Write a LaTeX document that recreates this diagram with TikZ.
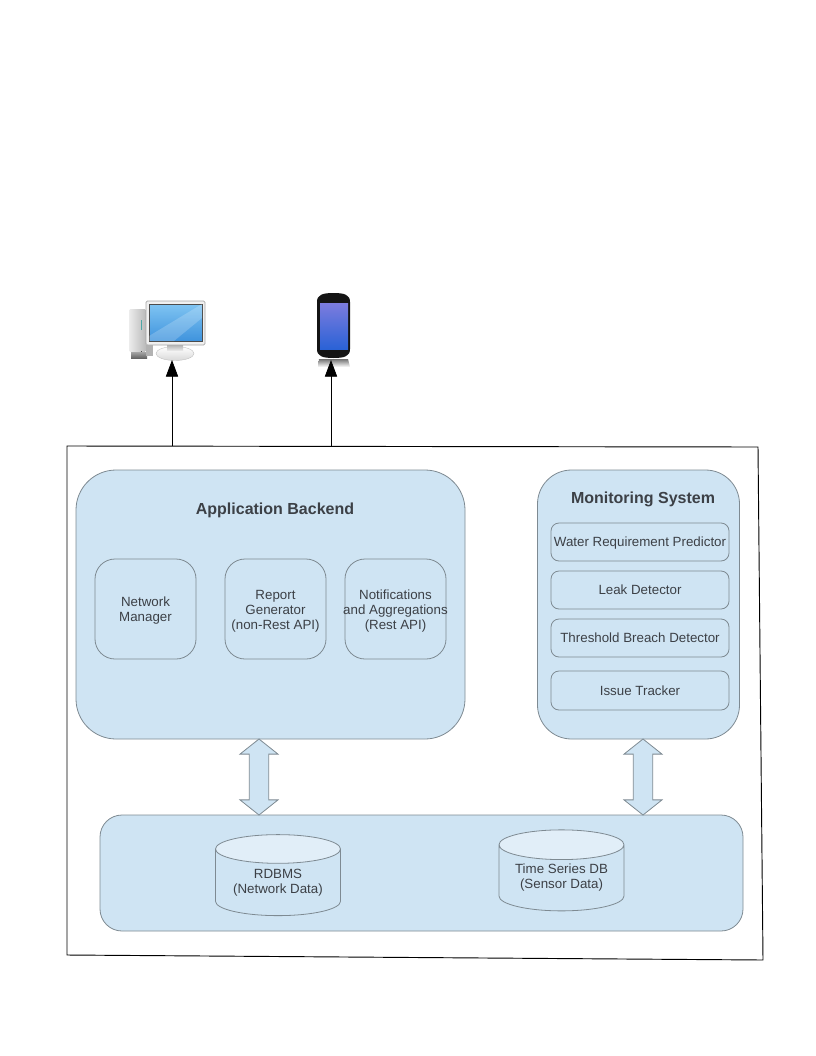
\documentclass[tikz,border=0pt]{standalone}
\usepackage{fontspec}
\setmainfont{Liberation Sans}
\usetikzlibrary{shapes.geometric,shapes.arrows,arrows.meta}
\definecolor{boxfill}{HTML}{CFE4F3}
\definecolor{capfill}{HTML}{E1EEF8}
\definecolor{boxline}{HTML}{7E8A92}
\definecolor{boxtext}{HTML}{3C4046}
\definecolor{scrtop}{HTML}{7FC4F2}
\definecolor{scrbot}{HTML}{3F93DD}
\definecolor{phtop}{HTML}{7C7CDE}
\definecolor{phbot}{HTML}{2A62D6}
\newcommand{\pxl}[1]{#1*0.75pt}
\newcommand{\dn}{\rule{0pt}{10pt}}
\tikzset{
  x=0.75pt,y=-0.75pt,
  body/.style={font=\fontsize{10}{11.25}\selectfont,text=boxtext,align=center},
  titletext/.style={font=\bfseries\fontsize{12}{14}\selectfont,text=boxtext,align=center,inner sep=0pt},
  roundbox/.style={draw=boxline,fill=boxfill,line width=0.6pt,body,inner sep=0pt},
  store/.style={cylinder,shape border rotate=90,draw=boxline,line width=0.6pt,body,inner sep=0pt,
    cylinder uses custom fill,cylinder body fill=boxfill,cylinder end fill=capfill,aspect=0.32,
    minimum width=\pxl{125},minimum height=\pxl{81}},
  link/.style={draw=boxline,fill=boxfill,line width=0.6pt,double arrow,rotate=90,inner xsep=0pt,inner ysep=\pxl{9},
    minimum width=\pxl{38},minimum height=\pxl{76},double arrow head extend=\pxl{9},double arrow tip angle=103,double arrow head indent=0pt},
  flow/.style={draw=black,line width=0.6pt,-{Triangle[length=12.5pt,width=9.2pt]}},
  frameline/.style={draw=black,line width=0.7pt}
}
\begin{document}
\begin{tikzpicture}
\useasboundingbox (0,0) rectangle (816,1056);
% frame
\coordinate (fa) at (67,446);
\coordinate (fb) at (758,447);
\coordinate (fc) at (763,960);
\coordinate (fd) at (67,955);
\draw[frameline] (fa) -- (fb) -- (fc) -- (fd) -- cycle;
% boxes
\node[roundbox,rounded corners=\pxl{40},minimum width=\pxl{389},minimum height=\pxl{269}] (backend) at (270.5,604.5) {};
\node[titletext] (backendtitle) at (275,510) {Application Backend};
\node[roundbox,rounded corners=\pxl{34},minimum width=\pxl{202},minimum height=\pxl{269}] (monitor) at (638.5,604.5) {};
\node[titletext] (monitortitle) at (643,499) {Monitoring System};
\node[roundbox,rounded corners=\pxl{20},minimum width=\pxl{101},minimum height=\pxl{100}] (netman) at (145.5,609) {\dn Network\\Manager};
\node[roundbox,rounded corners=\pxl{20},minimum width=\pxl{101},minimum height=\pxl{100}] (report) at (275.5,609) {\dn Report\\Generator\\(non-Rest API)};
\node[roundbox,rounded corners=\pxl{20},minimum width=\pxl{101},minimum height=\pxl{100},inner xsep=-2pt] (notif) at (395.5,609) {\dn Notifications\\and Aggregations\\(Rest API)};
\node[roundbox,rounded corners=\pxl{8},minimum width=\pxl{178},minimum height=\pxl{38}] (predict) at (640,542) {\rule{0pt}{8.7pt}Water Requirement Predictor};
\node[roundbox,rounded corners=\pxl{8},minimum width=\pxl{178},minimum height=\pxl{38}] (leak) at (640,590) {Leak Detector};
\node[roundbox,rounded corners=\pxl{8},minimum width=\pxl{178},minimum height=\pxl{38}] (breach) at (640,638) {Threshold Breach Detector};
\node[roundbox,rounded corners=\pxl{8},minimum width=\pxl{178},minimum height=\pxl{39}] (issue) at (640,690.5) {Issue Tracker};
\node[roundbox,rounded corners=\pxl{22},minimum width=\pxl{643},minimum height=\pxl{116}] (storage) at (421.5,873) {};
\node[store] (rdbms) at (278,882.5) {RDBMS\\(Network Data)};
\node[store] (tsdb) at (561.5,878) {Time Series DB\\(Sensor Data)};
% double arrows
\node[link] (linka) at (259,777) {};
\node[link] (linkb) at (643,777) {};
% computer icon
\shade[left color=white!85!gray,right color=gray!55,rounded corners=1pt] (129,309) rectangle (146,352);
\fill[teal!70] (140.5,320) rectangle (141.5,330);
\fill[black!70] (140.5,351) rectangle (141.5,354);
\shade[top color=gray!70,bottom color=black!60] (131,352) rectangle (147,358);
\fill[gray!60] (146,345) rectangle (153,356);
\node[ellipse,inner sep=0pt,minimum width=\pxl{38},minimum height=\pxl{14},shade,top color=white,bottom color=gray!30,draw=gray!50,line width=0.3pt] (pcbase) at (175,353.5) {};
\shade[top color=gray!60,bottom color=gray!20] (167,345) rectangle (183,350);
\fill[gray!12,draw=gray!70,line width=0.5pt,rounded corners=1pt] (146,301) rectangle (205,345);
\shade[top color=scrtop,bottom color=scrbot,draw=black!70,line width=0.5pt] (149,304) rectangle (202,341);
\fill[white,opacity=0.2] (149,341) -- (149,336) -- (202,304) -- (202,318) -- (174,341) -- cycle;
% phone icon
\shade[top color=black!55,bottom color=white] (319,359) -- (348,359) -- (350,367) -- (318,367) -- cycle;
\fill[black!92] (317,302) .. controls (317,295) and (322,293) .. (333.5,293) .. controls (345,293) and (350,295) .. (350,302)
  -- (350,349) .. controls (350,356) and (345,358) .. (333.5,358) .. controls (322,358) and (317,356) .. (317,349) -- cycle;
\shade[top color=phtop,bottom color=phbot] (320,303) rectangle (348,349);
% connectors
\coordinate (pcout) at (172,446);
\coordinate (pcin) at (172,360);
\coordinate (phoneout) at (331,446);
\coordinate (phonein) at (331,360);
\draw[flow] (pcout) -- (pcin);
\draw[flow] (phoneout) -- (phonein);
\end{tikzpicture}
\end{document}
